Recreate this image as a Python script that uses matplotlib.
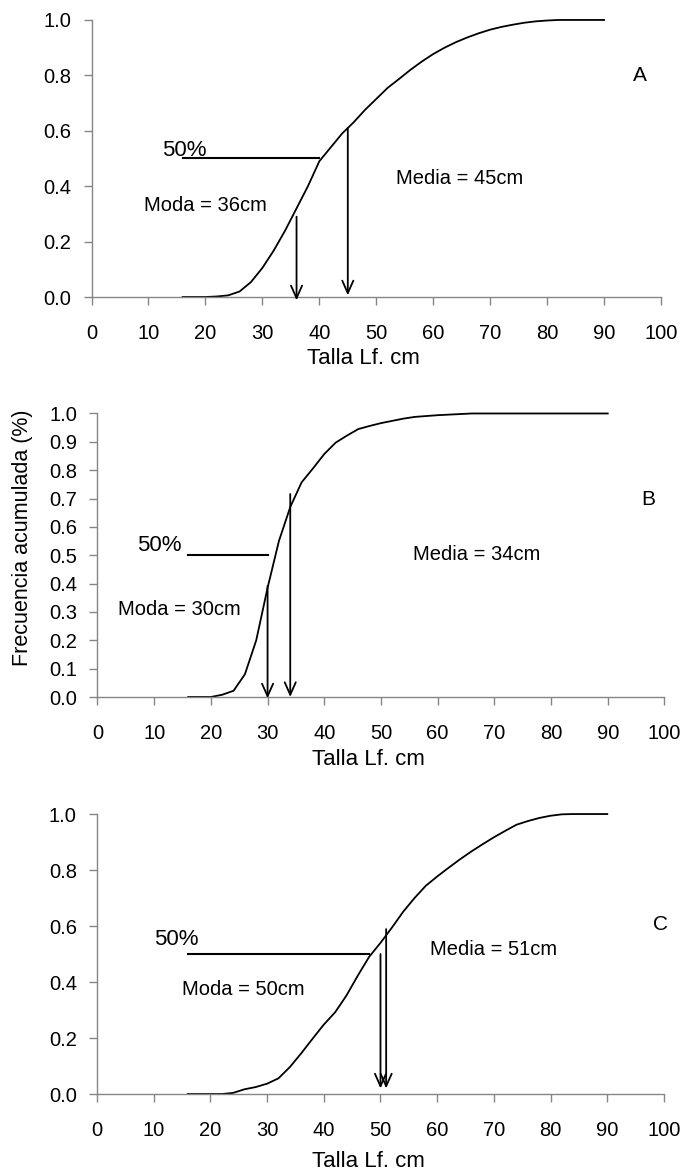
import matplotlib.pyplot as plt

plt.rcParams['font.family'] = ['Liberation Sans', 'DejaVu Sans']

# Tallas (Lf, cm), marcas de clase cada 2 cm
talla = [16, 18, 20, 22, 24, 26, 28, 30, 32, 34, 36, 38, 40, 42, 44, 46, 48, 50, 52,
         54, 56, 58, 60, 62, 64, 66, 68, 70, 72, 74, 76, 78, 80, 82, 84, 86, 88, 90]

# Frecuencia acumulada por muestreo
frec_a = [0, 0, 0, 0.002, 0.006, 0.02, 0.054, 0.105, 0.168, 0.24, 0.32, 0.40, 0.49,
          0.54, 0.59, 0.63, 0.675, 0.715, 0.755, 0.787, 0.82, 0.85, 0.877, 0.90, 0.92,
          0.937, 0.952, 0.965, 0.975, 0.983, 0.99, 0.995, 0.998, 1.0, 1.0, 1.0, 1.0, 1.0]
frec_b = [0, 0, 0, 0.008, 0.022, 0.08, 0.2, 0.385, 0.55, 0.67, 0.757, 0.806, 0.857,
          0.897, 0.922, 0.945, 0.956, 0.966, 0.974, 0.982, 0.988, 0.991, 0.994, 0.996,
          0.998, 1.0, 1.0, 1.0, 1.0, 1.0, 1.0, 1.0, 1.0, 1.0, 1.0, 1.0, 1.0, 1.0]
frec_c = [0, 0, 0, 0, 0.004, 0.017, 0.025, 0.037, 0.056, 0.096, 0.145, 0.197, 0.248,
          0.292, 0.352, 0.423, 0.49, 0.54, 0.594, 0.651, 0.70, 0.744, 0.777, 0.808,
          0.838, 0.866, 0.892, 0.917, 0.94, 0.962, 0.975, 0.986, 0.994, 0.999, 1.0,
          1.0, 1.0, 1.0]

paneles = ['A', 'B', 'C']
moda = [36, 30, 50]
media = [45, 34, 51]
fin_50 = [40, 30, 48]

# posiciones de ejes y textos de cada panel
layout = [
    dict(rect=[0.1336, 0.747, 0.8314, 0.236], ystep=0.2, xlab_y=-0.185,
         t50=(12.4, 0.53), tmoda=(9.2, 0.331), tmedia=(53.4, 0.428), tletra=(96.3, 0.80),
         moda_y=(0.29, -0.012), media_y=(0.61, 0.006)),
    dict(rect=[0.1423, 0.4063, 0.8277, 0.2415], ystep=0.1, xlab_y=-0.183,
         t50=(7.0, 0.533), tmoda=(3.6, 0.307), tmedia=(55.7, 0.504), tletra=(97.1, 0.698),
         moda_y=(0.392, -0.005), media_y=(0.716, 0.0)),
    dict(rect=[0.1416, 0.0681, 0.8277, 0.2385], ystep=0.2, xlab_y=-0.205,
         t50=(10.1, 0.553), tmoda=(15.0, 0.372), tmedia=(58.8, 0.517), tletra=(99.4, 0.604),
         moda_y=(0.50, 0.02), media_y=(0.589, 0.02)),
]

gris = '#868686'
flecha = dict(arrowstyle='->,head_length=0.9,head_width=0.4', lw=1.3, color='black',
              shrinkA=0, shrinkB=0)

fig = plt.figure(figsize=(6.85, 11.74), dpi=100)

for i, frec in enumerate([frec_a, frec_b, frec_c]):
    lay = layout[i]
    ax = fig.add_axes(lay['rect'])
    ax.plot(talla, frec, color='black', lw=1.3, clip_on=False)

    ax.set_xlim(0, 100)
    ax.set_ylim(0, 1)
    ax.set_xticks(range(0, 101, 10))
    n = int(round(1 / lay['ystep']))
    ax.set_yticks([k * lay['ystep'] for k in range(n + 1)])
    ax.set_yticklabels([f"{k * lay['ystep']:.1f}" for k in range(n + 1)])

    for s in ['top', 'right']:
        ax.spines[s].set_visible(False)
    for s in ['left', 'bottom']:
        ax.spines[s].set_color(gris)
        ax.spines[s].set_linewidth(1.0)
    ax.tick_params(axis='both', direction='out', length=5.5, width=1.0, color=gris,
                   labelsize=14.5)
    ax.tick_params(axis='x', pad=14)
    ax.tick_params(axis='y', pad=9)

    ax.set_xlabel('Talla Lf. cm', fontsize=16)
    ax.xaxis.set_label_coords(0.478, lay['xlab_y'])
    if i == 1:
        ax.set_ylabel('Frecuencia acumulada (%)', fontsize=15.5)
        ax.yaxis.set_label_coords(-0.114, 0.56)

    # linea del 50 %
    ax.plot([talla[0], fin_50[i]], [0.5, 0.5], color='black', lw=1.5)
    ax.text(*lay['t50'], '50%', fontsize=16, ha='left', va='center')

    # flechas de moda y media
    ax.annotate('', xy=(moda[i], lay['moda_y'][1]), xytext=(moda[i], lay['moda_y'][0]),
                arrowprops=flecha, annotation_clip=False)
    ax.annotate('', xy=(media[i], lay['media_y'][1]), xytext=(media[i], lay['media_y'][0]),
                arrowprops=flecha, annotation_clip=False)

    ax.text(*lay['tmoda'], f'Moda = {moda[i]}cm', fontsize=14.5, ha='left', va='center')
    ax.text(*lay['tmedia'], f'Media = {media[i]}cm', fontsize=14.5, ha='left', va='center')
    ax.text(*lay['tletra'], paneles[i], fontsize=15, ha='center', va='center')

fig.savefig('out.png', dpi=100)
